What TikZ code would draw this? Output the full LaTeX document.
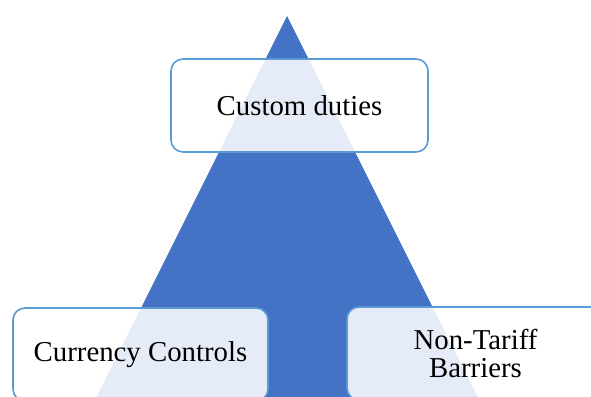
\documentclass[tikz,border=0pt]{standalone}
\usepackage{fontspec}
\setmainfont{Liberation Serif}
\usetikzlibrary{positioning}
\definecolor{pyrblue}{RGB}{68,114,196}
\definecolor{boxline}{RGB}{91,155,213}

\begin{document}
\begin{tikzpicture}[
  x=1pt, y=-1pt,
  barrier/.style={rectangle, draw=boxline, line width=1.6pt, rounded corners=12pt,
    fill=white, fill opacity=0.87, text opacity=1, inner sep=0pt,
    minimum width=257pt, minimum height=93pt, align=center,
    font=\fontsize{28.8}{28}\selectfont}
]
\useasboundingbox (0,0) rectangle (591,396);
\clip (0,0) rectangle (591,396);

% Pyramide
\fill[pyrblue] (287,16) -- (679,800) -- (-105,800) -- cycle;

% Kästen
\node[barrier] (duties) at (299.5,105.5) {Custom duties};
\node[barrier, minimum width=255pt] (currency) at (140.5,354.5) {Currency Controls};
\node[barrier] (nontariff) at (475.5,353.5) {Non-Tariff\\Barriers};

\end{tikzpicture}
\end{document}
